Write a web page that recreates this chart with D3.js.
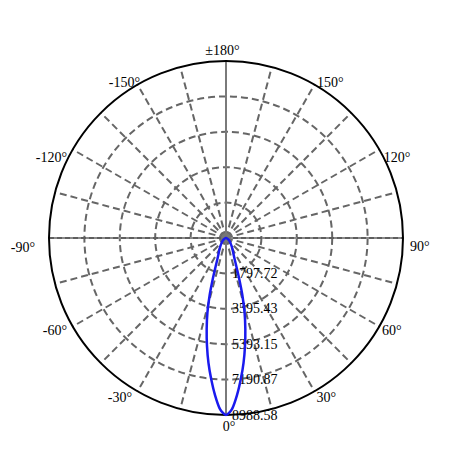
<!DOCTYPE html>
<html>
<head>
<meta charset="utf-8">
<script src="https://cdn.jsdelivr.net/npm/d3@7"></script>
<style>
  html, body { margin: 0; padding: 0; background: #fff; }
  svg { display: block; }
  text { font-family: "Liberation Serif", "DejaVu Serif", serif; font-size: 14px; fill: #000; }
</style>
</head>
<body>
<svg id="chart" width="450" height="450"></svg>
<script>
// ---- data ----
const angles = [-180, -150, -120, -90, -80, -70, -60, -50, -45, -40, -35, -30, -25, -22, -20, -18, -16, -14, -12, -10, -8, -6, -4, -2,
                0, 2, 4, 6, 8, 10, 12, 14, 16, 18, 20, 22, 25, 30, 35, 40, 45, 50, 60, 70, 80, 90, 120, 150, 180];
const intensity = [0, 0, 0, 5, 25, 60, 120, 220, 290, 370, 490, 660, 900, 1180, 1550, 2150, 3000, 3900, 4720, 5560, 6400, 7200, 8000, 8700,
                   8988.58, 8700, 8000, 7200, 6400, 5560, 4720, 3900, 3000, 2150, 1550, 1180, 900, 660, 490, 370, 290, 220, 120, 60, 25, 5, 0, 0, 0];
const radialTicks = [1797.72, 3595.43, 5393.15, 7190.87, 8988.58];
const radialTickLabels = ["1797.72", "3595.43", "5393.15", "7190.87", "8988.58"];
const angleTicks = [180, 150, 120, 90, 60, 30, 0, -30, -60, -90, -120, -150];
const angleTickLabels = ["±180°", "150°", "120°", "90°", "60°", "30°", "0°", "-30°", "-60°", "-90°", "-120°", "-150°"];

// ---- layout ----
const cx = 226, cy = 238, R = 177;
const svg = d3.select("#chart");
const g = svg.append("g").attr("transform", `translate(${cx},${cy})`);
const r = d3.scaleLinear().domain([0, d3.max(radialTicks)]).range([0, R]);
const toRad = d => (180 - d) * Math.PI / 180; // 0° at bottom, +90° at right
const px = (d, rr) => rr * Math.sin(toRad(d));
const py = (d, rr) => -rr * Math.cos(toRad(d));

const gridGrey = "#666";

// dashed rings
g.selectAll("circle.ring").data(radialTicks.slice(0, -1)).enter().append("circle")
  .attr("r", d => r(d)).attr("fill", "none")
  .attr("stroke", gridGrey).attr("stroke-width", 2).attr("stroke-dasharray", "7,4");

// dashed spokes every 15°
const spokes = d3.range(-165, 181, 15).filter(a => a % 90 !== 0);
g.selectAll("line.spoke").data(spokes).enter().append("line")
  .attr("x1", 0).attr("y1", 0)
  .attr("x2", d => px(d, R)).attr("y2", d => py(d, R))
  .attr("stroke", gridGrey).attr("stroke-width", 2).attr("stroke-dasharray", "7,4");

// vertical axis (0 / 180) solid grey
g.append("line").attr("x1", 0).attr("y1", -R).attr("x2", 0).attr("y2", R)
  .attr("stroke", "#7a7a7a").attr("stroke-width", 2);
// horizontal axis (90 / -90)
g.append("line").attr("x1", -R).attr("y1", 0).attr("x2", R).attr("y2", 0)
  .attr("stroke", "#8a8a8a").attr("stroke-width", 2);
g.append("line").attr("x1", -R).attr("y1", 0).attr("x2", R).attr("y2", 0)
  .attr("stroke", "#333").attr("stroke-width", 1).attr("stroke-dasharray", "5,3");

// center hub
g.append("circle").attr("r", 5).attr("fill", "#777").attr("stroke", "none");

// outer circle
g.append("circle").attr("r", R).attr("fill", "none").attr("stroke", "#000").attr("stroke-width", 2);

// radial tick labels
g.selectAll("text.rlab").data(radialTicks).enter().append("text")
  .attr("x", 6).attr("y", d => r(d))
  .attr("dominant-baseline", "central")
  .text((d, i) => radialTickLabels[i]);

// angle labels
const nudge = {
  "180": [-3.5, -6], "150": [2.5, 2.5], "120": [4.5, 12.5], "90": [7, 13], "60": [2.7, 8], "30": [2, 10.7],
  "0": [3, 16], "-30": [-5.5, 10.7], "-60": [-5.7, 8.5], "-90": [-14, 14], "-120": [-5.7, 12.5], "-150": [2.5, 2.5]
};
g.selectAll("text.alab").data(angleTicks).enter().append("text")
  .attr("x", d => px(d, R) + nudge[d][0])
  .attr("y", d => py(d, R) + nudge[d][1])
  .attr("text-anchor", d => (d === 0 || d === 180) ? "middle" : (d > 0 ? "start" : "end"))
  .text((d, i) => angleTickLabels[i]);

// intensity curve
const pts = angles.map((a, i) => [a, intensity[i]]);
const line = d3.lineRadial()
  .angle(d => toRad(d[0]))
  .radius(d => r(d[1]))
  .curve(d3.curveCardinalClosed.tension(0.3));
g.append("path").datum(pts.slice(0, -1))
  .attr("d", line).attr("fill", "none")
  .attr("stroke", "#1a1aee").attr("stroke-width", 2.5);
</script>
</body>
</html>
